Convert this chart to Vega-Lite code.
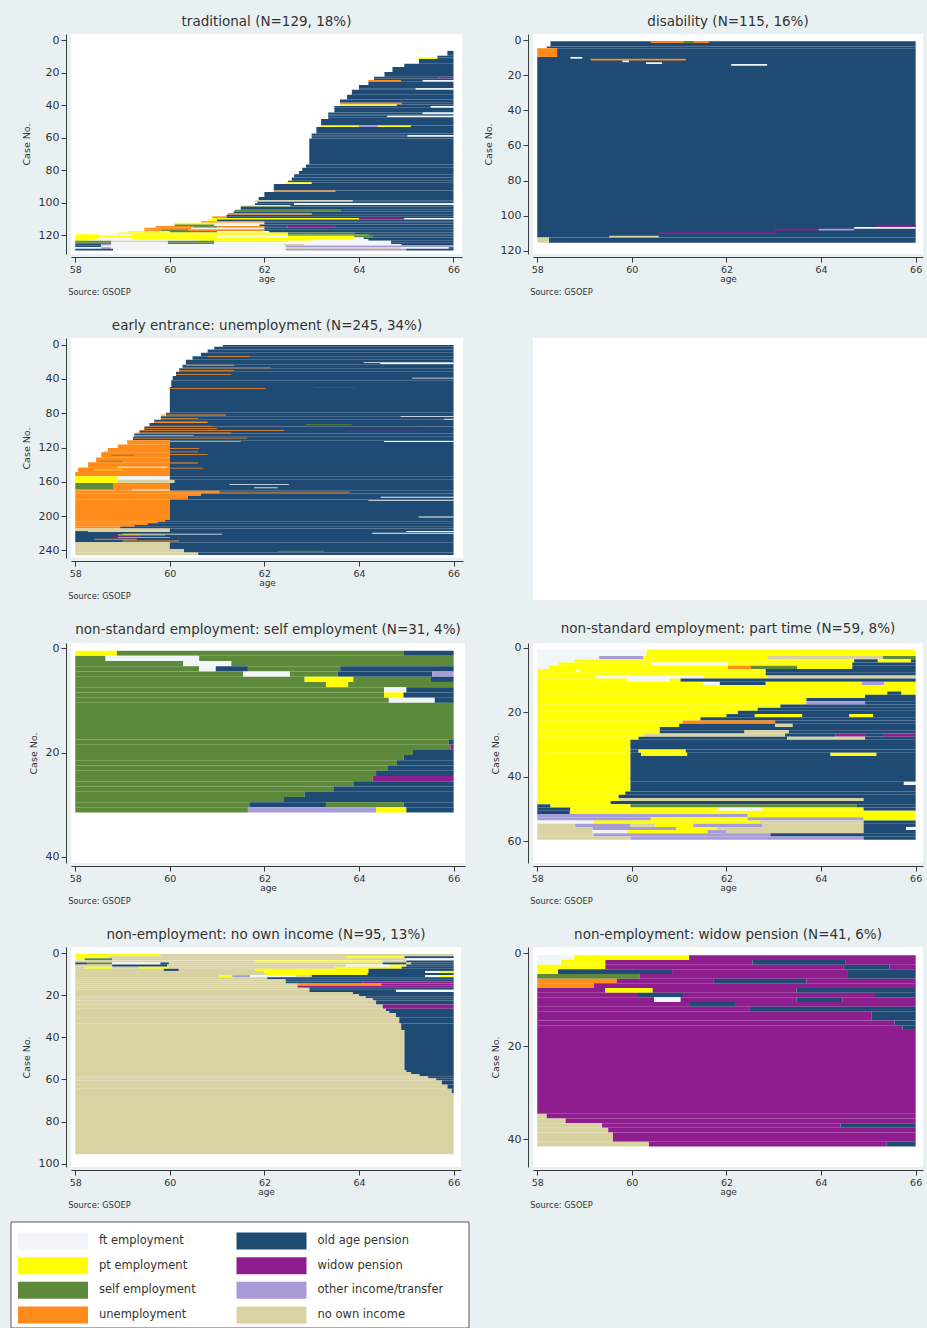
{
"$schema": "https://vega.github.io/schema/vega-lite/v6.json",
"background": "#e9f0f2",
"padding": {"left": 10, "top": 14, "right": 0, "bottom": 0},
"spacing": 11,
"config": {
 "font": "DejaVu Sans",
 "view": {"fill": "white", "stroke": null},
 "axis": {"grid": false, "domainColor": "#3c3c3c", "tickColor": "#3c3c3c", "labelColor": "#333333", "titleColor": "#333333", "titleFontWeight": "normal", "tickSize": 5, "labelFont": "DejaVu Sans", "titleFont": "DejaVu Sans", "labelOverlap": false},
 "axisX": {"labelFontSize": 9.5, "titleFontSize": 9, "offset": 3, "labelPadding": 2, "titlePadding": 1},
 "axisY": {"labelFontSize": 11, "titleFontSize": 9.5, "offset": 5, "labelPadding": 2, "titlePadding": 7, "tickCount": 20},
 "title": {"fontSize": 13.5, "fontWeight": "normal", "color": "#333333", "frame": "group", "offset": 6, "font": "DejaVu Sans"}
},
"datasets": {
"trad": [
{"s":"op","c0":7,"c1":9,"a0":65.87,"a1":66},
{"s":"op","c0":10,"c1":10,"a0":65.66,"a1":66},
{"s":"pt","c0":11,"c1":11,"a0":65.25,"a1":65.66},
{"s":"op","c0":11,"c1":11,"a0":65.66,"a1":66},
{"s":"op","c0":12,"c1":14,"a0":65.27,"a1":66},
{"s":"op","c0":15,"c1":16,"a0":64.96,"a1":66},
{"s":"op","c0":17,"c1":19,"a0":64.71,"a1":66},
{"s":"op","c0":20,"c1":22,"a0":64.54,"a1":66},
{"s":"op","c0":23,"c1":23,"a0":64.32,"a1":65.68},
{"s":"wp","c0":23,"c1":23,"a0":65.68,"a1":66},
{"s":"op","c0":24,"c1":24,"a0":64.32,"a1":66},
{"s":"un","c0":25,"c1":25,"a0":64.2,"a1":64.89},
{"s":"op","c0":25,"c1":25,"a0":64.89,"a1":65.35},
{"s":"ft","c0":25,"c1":25,"a0":65.35,"a1":66},
{"s":"op","c0":26,"c1":27,"a0":64.2,"a1":66},
{"s":"op","c0":28,"c1":29,"a0":64.0,"a1":66},
{"s":"op","c0":30,"c1":30,"a0":64.0,"a1":65.2},
{"s":"ft","c0":30,"c1":30,"a0":65.2,"a1":66},
{"s":"op","c0":31,"c1":33,"a0":63.85,"a1":66},
{"s":"op","c0":34,"c1":36,"a0":63.75,"a1":66},
{"s":"op","c0":37,"c1":38,"a0":63.6,"a1":66},
{"s":"un","c0":39,"c1":39,"a0":63.6,"a1":64.9},
{"s":"op","c0":39,"c1":39,"a0":64.9,"a1":66},
{"s":"pt","c0":40,"c1":40,"a0":63.6,"a1":64.8},
{"s":"op","c0":40,"c1":40,"a0":64.8,"a1":66},
{"s":"op","c0":41,"c1":41,"a0":63.48,"a1":65.52},
{"s":"ft","c0":41,"c1":41,"a0":65.52,"a1":66},
{"s":"op","c0":42,"c1":44,"a0":63.48,"a1":66},
{"s":"op","c0":45,"c1":45,"a0":63.35,"a1":65.35},
{"s":"ft","c0":45,"c1":45,"a0":65.35,"a1":66},
{"s":"op","c0":46,"c1":46,"a0":63.35,"a1":66},
{"s":"op","c0":47,"c1":47,"a0":63.35,"a1":64.6},
{"s":"ft","c0":47,"c1":47,"a0":64.6,"a1":66},
{"s":"op","c0":48,"c1":48,"a0":63.35,"a1":66},
{"s":"op","c0":49,"c1":52,"a0":63.2,"a1":66},
{"s":"pt","c0":53,"c1":53,"a0":63.2,"a1":64.0},
{"s":"ot","c0":53,"c1":53,"a0":64.0,"a1":64.4},
{"s":"pt","c0":53,"c1":53,"a0":64.4,"a1":65.1},
{"s":"op","c0":53,"c1":53,"a0":65.1,"a1":66},
{"s":"op","c0":54,"c1":57,"a0":63.1,"a1":66},
{"s":"op","c0":58,"c1":58,"a0":63.0,"a1":66},
{"s":"op","c0":59,"c1":59,"a0":63.0,"a1":65.03},
{"s":"ft","c0":59,"c1":59,"a0":65.03,"a1":66},
{"s":"op","c0":60,"c1":60,"a0":63.0,"a1":66},
{"s":"op","c0":61,"c1":76,"a0":62.95,"a1":66},
{"s":"op","c0":77,"c1":78,"a0":62.88,"a1":66},
{"s":"op","c0":79,"c1":80,"a0":62.8,"a1":66},
{"s":"op","c0":81,"c1":82,"a0":62.73,"a1":66},
{"s":"op","c0":83,"c1":84,"a0":62.63,"a1":66},
{"s":"op","c0":85,"c1":86,"a0":62.58,"a1":66},
{"s":"op","c0":87,"c1":87,"a0":62.5,"a1":66},
{"s":"pt","c0":88,"c1":88,"a0":62.45,"a1":63.0},
{"s":"op","c0":88,"c1":88,"a0":63.0,"a1":66},
{"s":"op","c0":89,"c1":92,"a0":62.2,"a1":66},
{"s":"un","c0":93,"c1":93,"a0":62.2,"a1":63.5},
{"s":"op","c0":93,"c1":93,"a0":63.5,"a1":66},
{"s":"op","c0":94,"c1":96,"a0":62.0,"a1":66},
{"s":"op","c0":97,"c1":98,"a0":61.88,"a1":66},
{"s":"ni","c0":99,"c1":99,"a0":61.8,"a1":63.87},
{"s":"op","c0":99,"c1":99,"a0":63.87,"a1":66},
{"s":"op","c0":100,"c1":100,"a0":61.85,"a1":66},
{"s":"op","c0":101,"c1":101,"a0":61.8,"a1":62.63},
{"s":"ft","c0":101,"c1":101,"a0":62.63,"a1":66},
{"s":"pt","c0":102,"c1":102,"a0":61.5,"a1":62.55},
{"s":"op","c0":102,"c1":102,"a0":62.55,"a1":66},
{"s":"op","c0":103,"c1":104,"a0":61.5,"a1":66},
{"s":"se","c0":105,"c1":105,"a0":61.37,"a1":63.62},
{"s":"op","c0":105,"c1":105,"a0":63.62,"a1":66},
{"s":"op","c0":106,"c1":106,"a0":61.35,"a1":66},
{"s":"un","c0":107,"c1":107,"a0":61.23,"a1":63.0},
{"s":"op","c0":107,"c1":107,"a0":63.0,"a1":66},
{"s":"op","c0":108,"c1":108,"a0":61.2,"a1":66},
{"s":"un","c0":109,"c1":109,"a0":60.9,"a1":61.2},
{"s":"op","c0":109,"c1":109,"a0":61.2,"a1":66},
{"s":"pt","c0":110,"c1":110,"a0":60.87,"a1":64.0},
{"s":"wp","c0":110,"c1":110,"a0":64.0,"a1":64.96},
{"s":"ft","c0":110,"c1":110,"a0":64.96,"a1":66},
{"s":"pt","c0":111,"c1":111,"a0":60.8,"a1":61.0},
{"s":"op","c0":111,"c1":111,"a0":61.0,"a1":66},
{"s":"un","c0":112,"c1":112,"a0":60.66,"a1":62.0},
{"s":"op","c0":112,"c1":112,"a0":62.0,"a1":66},
{"s":"pt","c0":113,"c1":113,"a0":60.1,"a1":60.94},
{"s":"ft","c0":113,"c1":113,"a0":60.94,"a1":62.0},
{"s":"op","c0":113,"c1":113,"a0":62.0,"a1":66},
{"s":"se","c0":114,"c1":114,"a0":60.1,"a1":60.94},
{"s":"ft","c0":114,"c1":114,"a0":60.94,"a1":61.9},
{"s":"op","c0":114,"c1":114,"a0":61.9,"a1":66},
{"s":"un","c0":115,"c1":115,"a0":59.7,"a1":60.5},
{"s":"se","c0":115,"c1":115,"a0":60.5,"a1":61.0},
{"s":"un","c0":115,"c1":115,"a0":61.0,"a1":62.0},
{"s":"op","c0":115,"c1":115,"a0":62.0,"a1":62.49},
{"s":"wp","c0":115,"c1":115,"a0":62.49,"a1":63.48},
{"s":"op","c0":115,"c1":115,"a0":63.48,"a1":66},
{"s":"un","c0":116,"c1":116,"a0":59.46,"a1":60.45},
{"s":"ft","c0":116,"c1":116,"a0":60.45,"a1":62.0},
{"s":"op","c0":116,"c1":116,"a0":62.0,"a1":66},
{"s":"un","c0":117,"c1":117,"a0":59.46,"a1":59.8},
{"s":"se","c0":117,"c1":117,"a0":59.8,"a1":60.4},
{"s":"un","c0":117,"c1":117,"a0":60.4,"a1":62.0},
{"s":"op","c0":117,"c1":117,"a0":62.0,"a1":66},
{"s":"pt","c0":118,"c1":118,"a0":59.1,"a1":60.0},
{"s":"se","c0":118,"c1":118,"a0":60.0,"a1":61.0},
{"s":"ft","c0":118,"c1":118,"a0":61.0,"a1":62.1},
{"s":"op","c0":118,"c1":118,"a0":62.1,"a1":66},
{"s":"pt","c0":119,"c1":119,"a0":58.9,"a1":62.5},
{"s":"se","c0":119,"c1":119,"a0":62.5,"a1":63.9},
{"s":"op","c0":119,"c1":119,"a0":63.9,"a1":66},
{"s":"pt","c0":120,"c1":120,"a0":58.0,"a1":58.5},
{"s":"ft","c0":120,"c1":120,"a0":58.5,"a1":59.2},
{"s":"pt","c0":120,"c1":120,"a0":59.2,"a1":62.5},
{"s":"se","c0":120,"c1":120,"a0":62.5,"a1":64.2},
{"s":"op","c0":120,"c1":120,"a0":64.2,"a1":66},
{"s":"pt","c0":121,"c1":121,"a0":58.0,"a1":61.0},
{"s":"ft","c0":121,"c1":121,"a0":61.0,"a1":62.5},
{"s":"pt","c0":121,"c1":121,"a0":62.5,"a1":63.9},
{"s":"se","c0":121,"c1":121,"a0":63.9,"a1":64.3},
{"s":"op","c0":121,"c1":121,"a0":64.3,"a1":66},
{"s":"pt","c0":122,"c1":122,"a0":58.0,"a1":58.48},
{"s":"ft","c0":122,"c1":122,"a0":58.48,"a1":59.2},
{"s":"pt","c0":122,"c1":122,"a0":59.2,"a1":63.9},
{"s":"ft","c0":122,"c1":122,"a0":63.9,"a1":64.1},
{"s":"op","c0":122,"c1":122,"a0":64.1,"a1":66},
{"s":"pt","c0":123,"c1":123,"a0":58.0,"a1":58.3},
{"s":"ft","c0":123,"c1":123,"a0":58.3,"a1":60.6},
{"s":"pt","c0":123,"c1":123,"a0":60.6,"a1":63.0},
{"s":"ft","c0":123,"c1":123,"a0":63.0,"a1":64.2},
{"s":"op","c0":123,"c1":123,"a0":64.2,"a1":66},
{"s":"se","c0":124,"c1":124,"a0":58.0,"a1":58.76},
{"s":"ni","c0":124,"c1":124,"a0":58.76,"a1":59.96},
{"s":"se","c0":124,"c1":124,"a0":59.96,"a1":60.94},
{"s":"pt","c0":124,"c1":124,"a0":60.94,"a1":62.5},
{"s":"ft","c0":124,"c1":124,"a0":62.5,"a1":64.68},
{"s":"op","c0":124,"c1":124,"a0":64.68,"a1":66},
{"s":"se","c0":125,"c1":125,"a0":58.0,"a1":58.76},
{"s":"ft","c0":125,"c1":125,"a0":58.76,"a1":59.96},
{"s":"se","c0":125,"c1":125,"a0":59.96,"a1":60.94},
{"s":"ft","c0":125,"c1":125,"a0":60.94,"a1":64.68},
{"s":"op","c0":125,"c1":125,"a0":64.68,"a1":66},
{"s":"op","c0":126,"c1":126,"a0":58.0,"a1":58.55},
{"s":"ot","c0":126,"c1":126,"a0":58.55,"a1":58.76},
{"s":"ft","c0":126,"c1":126,"a0":58.76,"a1":62.42},
{"s":"ni","c0":126,"c1":126,"a0":62.42,"a1":62.85},
{"s":"ft","c0":126,"c1":126,"a0":62.85,"a1":64.9},
{"s":"op","c0":126,"c1":126,"a0":64.9,"a1":66},
{"s":"op","c0":127,"c1":127,"a0":58.0,"a1":58.55},
{"s":"ft","c0":127,"c1":127,"a0":58.55,"a1":62.45},
{"s":"ot","c0":127,"c1":127,"a0":62.45,"a1":66},
{"s":"ft","c0":128,"c1":128,"a0":58.0,"a1":58.55},
{"s":"ot","c0":128,"c1":128,"a0":58.55,"a1":58.76},
{"s":"ft","c0":128,"c1":128,"a0":58.76,"a1":62.45},
{"s":"ni","c0":128,"c1":128,"a0":62.45,"a1":64.9},
{"s":"ft","c0":128,"c1":128,"a0":64.9,"a1":65.9},
{"s":"op","c0":128,"c1":128,"a0":65.9,"a1":66},
{"s":"op","c0":129,"c1":129,"a0":58.0,"a1":58.8},
{"s":"ft","c0":129,"c1":129,"a0":58.8,"a1":62.45},
{"s":"ot","c0":129,"c1":129,"a0":62.45,"a1":65.0},
{"s":"op","c0":129,"c1":129,"a0":65.0,"a1":66}
],
"dis": [
{"s":"op","c0":1,"c1":3,"a0":58.28,"a1":66},
{"s":"op","c0":4,"c1":4,"a0":58.2,"a1":66},
{"s":"un","c0":5,"c1":9,"a0":58.0,"a1":58.42},
{"s":"op","c0":5,"c1":9,"a0":58.42,"a1":66},
{"s":"op","c0":10,"c1":112,"a0":58.0,"a1":66},
{"s":"ni","c0":113,"c1":115,"a0":58.0,"a1":58.25},
{"s":"op","c0":113,"c1":115,"a0":58.25,"a1":66},
{"s":"un","c0":1,"c1":1,"a0":60.4,"a1":61.1},
{"s":"se","c0":1,"c1":1,"a0":61.1,"a1":61.3},
{"s":"un","c0":1,"c1":1,"a0":61.3,"a1":61.63},
{"s":"ft","c0":10,"c1":10,"a0":58.7,"a1":58.95},
{"s":"un","c0":11,"c1":11,"a0":59.13,"a1":61.14},
{"s":"ft","c0":12,"c1":12,"a0":59.8,"a1":59.94},
{"s":"ft","c0":13,"c1":13,"a0":60.3,"a1":60.64},
{"s":"ft","c0":14,"c1":14,"a0":62.1,"a1":62.86},
{"s":"wp","c0":106,"c1":106,"a0":65.15,"a1":66},
{"s":"ft","c0":107,"c1":107,"a0":64.7,"a1":66},
{"s":"wp","c0":108,"c1":108,"a0":63.0,"a1":63.95},
{"s":"ot","c0":108,"c1":108,"a0":63.95,"a1":64.7},
{"s":"wp","c0":110,"c1":110,"a0":60.57,"a1":63.04},
{"s":"ni","c0":112,"c1":112,"a0":59.52,"a1":60.57}
],
"unemp": [
{"s":"op","c0":1,"c1":2,"a0":61.12,"a1":66},
{"s":"op","c0":3,"c1":5,"a0":60.94,"a1":66},
{"s":"op","c0":6,"c1":9,"a0":60.8,"a1":66},
{"s":"op","c0":10,"c1":13,"a0":60.66,"a1":66},
{"s":"op","c0":14,"c1":17,"a0":60.48,"a1":66},
{"s":"op","c0":18,"c1":23,"a0":60.34,"a1":66},
{"s":"op","c0":24,"c1":27,"a0":60.27,"a1":66},
{"s":"op","c0":28,"c1":31,"a0":60.2,"a1":66},
{"s":"op","c0":32,"c1":36,"a0":60.13,"a1":66},
{"s":"op","c0":37,"c1":41,"a0":60.06,"a1":66},
{"s":"op","c0":42,"c1":49,"a0":60.03,"a1":66},
{"s":"op","c0":50,"c1":79,"a0":60.0,"a1":66},
{"s":"op","c0":80,"c1":83,"a0":59.92,"a1":66},
{"s":"op","c0":84,"c1":87,"a0":59.81,"a1":66},
{"s":"op","c0":88,"c1":91,"a0":59.67,"a1":66},
{"s":"op","c0":92,"c1":95,"a0":59.57,"a1":66},
{"s":"op","c0":96,"c1":99,"a0":59.46,"a1":66},
{"s":"op","c0":100,"c1":103,"a0":59.36,"a1":66},
{"s":"op","c0":104,"c1":107,"a0":59.25,"a1":66},
{"s":"op","c0":108,"c1":111,"a0":59.22,"a1":66},
{"s":"un","c0":112,"c1":116,"a0":59.1,"a1":60.0},
{"s":"un","c0":117,"c1":120,"a0":58.9,"a1":60.0},
{"s":"un","c0":121,"c1":125,"a0":58.69,"a1":60.0},
{"s":"un","c0":126,"c1":131,"a0":58.55,"a1":60.0},
{"s":"un","c0":132,"c1":137,"a0":58.44,"a1":60.0},
{"s":"un","c0":138,"c1":143,"a0":58.27,"a1":60.0},
{"s":"un","c0":144,"c1":148,"a0":58.06,"a1":60.0},
{"s":"un","c0":149,"c1":153,"a0":58.0,"a1":60.0},
{"s":"op","c0":112,"c1":153,"a0":60.0,"a1":66},
{"s":"pt","c0":154,"c1":161,"a0":58.0,"a1":58.9},
{"s":"ft","c0":154,"c1":157,"a0":58.9,"a1":60.0},
{"s":"ni","c0":158,"c1":161,"a0":58.9,"a1":60.1},
{"s":"op","c0":154,"c1":157,"a0":60.0,"a1":66},
{"s":"op","c0":158,"c1":161,"a0":60.1,"a1":66},
{"s":"se","c0":162,"c1":168,"a0":58.0,"a1":58.8},
{"s":"un","c0":162,"c1":168,"a0":58.8,"a1":60.0},
{"s":"op","c0":162,"c1":168,"a0":60.0,"a1":66},
{"s":"un","c0":169,"c1":170,"a0":58.0,"a1":59.2},
{"s":"ni","c0":169,"c1":170,"a0":59.2,"a1":60.0},
{"s":"op","c0":169,"c1":170,"a0":60.0,"a1":66},
{"s":"un","c0":171,"c1":173,"a0":58.0,"a1":61.05},
{"s":"op","c0":171,"c1":173,"a0":61.05,"a1":66},
{"s":"un","c0":174,"c1":176,"a0":58.0,"a1":60.66},
{"s":"op","c0":174,"c1":176,"a0":60.66,"a1":66},
{"s":"un","c0":177,"c1":180,"a0":58.0,"a1":60.38},
{"s":"op","c0":177,"c1":180,"a0":60.38,"a1":66},
{"s":"un","c0":181,"c1":204,"a0":58.0,"a1":60.0},
{"s":"op","c0":181,"c1":204,"a0":60.0,"a1":66},
{"s":"un","c0":205,"c1":206,"a0":58.0,"a1":59.9},
{"s":"op","c0":205,"c1":206,"a0":59.9,"a1":66},
{"s":"un","c0":207,"c1":208,"a0":58.0,"a1":59.74},
{"s":"op","c0":207,"c1":208,"a0":59.74,"a1":66},
{"s":"un","c0":209,"c1":210,"a0":58.0,"a1":59.53},
{"s":"op","c0":209,"c1":210,"a0":59.53,"a1":66},
{"s":"un","c0":211,"c1":212,"a0":58.0,"a1":59.25},
{"s":"op","c0":211,"c1":212,"a0":59.25,"a1":66},
{"s":"un","c0":213,"c1":214,"a0":58.0,"a1":58.95},
{"s":"op","c0":213,"c1":214,"a0":58.95,"a1":66},
{"s":"ni","c0":215,"c1":218,"a0":58.0,"a1":60.0},
{"s":"op","c0":215,"c1":218,"a0":60.0,"a1":66},
{"s":"op","c0":218,"c1":218,"a0":58.0,"a1":58.27},
{"s":"op","c0":219,"c1":230,"a0":58.0,"a1":66},
{"s":"ni","c0":231,"c1":238,"a0":58.0,"a1":60.0},
{"s":"op","c0":231,"c1":238,"a0":60.0,"a1":66},
{"s":"ni","c0":239,"c1":242,"a0":58.0,"a1":60.3},
{"s":"op","c0":239,"c1":242,"a0":60.3,"a1":66},
{"s":"ni","c0":243,"c1":245,"a0":58.0,"a1":60.6},
{"s":"op","c0":243,"c1":245,"a0":60.6,"a1":66},
{"s":"un","c0":14,"c1":14,"a0":60.8,"a1":61.68},
{"s":"un","c0":24,"c1":24,"a0":60.34,"a1":61.36},
{"s":"un","c0":27,"c1":27,"a0":60.27,"a1":62.13},
{"s":"un","c0":30,"c1":30,"a0":60.2,"a1":61.36},
{"s":"un","c0":35,"c1":35,"a0":60.13,"a1":61.3},
{"s":"un","c0":51,"c1":51,"a0":60.0,"a1":62.03},
{"s":"un","c0":82,"c1":82,"a0":59.81,"a1":61.19},
{"s":"un","c0":86,"c1":86,"a0":59.81,"a1":60.6},
{"s":"un","c0":90,"c1":91,"a0":59.67,"a1":60.8},
{"s":"un","c0":95,"c1":95,"a0":59.57,"a1":60.9},
{"s":"un","c0":98,"c1":98,"a0":59.46,"a1":61.0},
{"s":"un","c0":100,"c1":100,"a0":59.36,"a1":62.42},
{"s":"un","c0":103,"c1":103,"a0":59.3,"a1":61.3},
{"s":"un","c0":106,"c1":106,"a0":59.25,"a1":60.5},
{"s":"un","c0":109,"c1":109,"a0":59.22,"a1":61.64},
{"s":"un","c0":113,"c1":113,"a0":59.1,"a1":61.5},
{"s":"un","c0":121,"c1":121,"a0":58.69,"a1":60.62},
{"s":"un","c0":125,"c1":125,"a0":58.6,"a1":60.59},
{"s":"un","c0":128,"c1":128,"a0":58.55,"a1":60.8},
{"s":"un","c0":138,"c1":138,"a0":58.27,"a1":60.59},
{"s":"un","c0":144,"c1":144,"a0":58.1,"a1":60.7},
{"s":"se","c0":136,"c1":136,"a0":58.5,"a1":59.0},
{"s":"se","c0":129,"c1":129,"a0":58.76,"a1":59.25},
{"s":"pt","c0":146,"c1":146,"a0":58.4,"a1":59.0},
{"s":"ft","c0":143,"c1":143,"a0":58.9,"a1":59.95},
{"s":"ft","c0":21,"c1":21,"a0":64.1,"a1":66},
{"s":"ft","c0":22,"c1":22,"a0":64.45,"a1":66},
{"s":"ft","c0":39,"c1":39,"a0":65.12,"a1":66},
{"s":"wp","c0":50,"c1":50,"a0":63.05,"a1":63.96},
{"s":"ft","c0":84,"c1":84,"a0":64.88,"a1":66},
{"s":"ft","c0":87,"c1":87,"a0":65.8,"a1":66},
{"s":"se","c0":93,"c1":93,"a0":62.87,"a1":63.86},
{"s":"wp","c0":101,"c1":101,"a0":63.75,"a1":65.23},
{"s":"ft","c0":113,"c1":113,"a0":64.53,"a1":66},
{"s":"ft","c0":163,"c1":163,"a0":61.26,"a1":62.52},
{"s":"ft","c0":167,"c1":167,"a0":61.78,"a1":62.28},
{"s":"un","c0":172,"c1":172,"a0":61.05,"a1":63.8},
{"s":"ft","c0":178,"c1":178,"a0":64.46,"a1":66},
{"s":"ft","c0":182,"c1":182,"a0":64.2,"a1":66},
{"s":"ft","c0":201,"c1":201,"a0":65.26,"a1":66},
{"s":"ft","c0":218,"c1":218,"a0":65.0,"a1":66},
{"s":"ft","c0":220,"c1":220,"a0":64.28,"a1":66},
{"s":"se","c0":241,"c1":241,"a0":62.28,"a1":63.26},
{"s":"wp","c0":224,"c1":224,"a0":58.76,"a1":59.4},
{"s":"un","c0":225,"c1":225,"a0":58.9,"a1":60.0},
{"s":"un","c0":227,"c1":227,"a0":58.4,"a1":59.3},
{"s":"ft","c0":221,"c1":221,"a0":59.0,"a1":61.1},
{"s":"pt","c0":222,"c1":222,"a0":58.9,"a1":59.4},
{"s":"ni","c0":222,"c1":222,"a0":59.4,"a1":59.9},
{"s":"un","c0":229,"c1":229,"a0":59.0,"a1":60.2}
],
"self": [
{"s":"pt","c0":1,"c1":1,"a0":58.0,"a1":58.88},
{"s":"se","c0":1,"c1":1,"a0":58.88,"a1":64.94},
{"s":"op","c0":1,"c1":1,"a0":64.94,"a1":66},
{"s":"se","c0":2,"c1":2,"a0":58.0,"a1":58.64},
{"s":"ft","c0":2,"c1":2,"a0":58.64,"a1":60.62},
{"s":"se","c0":2,"c1":2,"a0":60.62,"a1":66},
{"s":"se","c0":3,"c1":3,"a0":58.0,"a1":60.28},
{"s":"ft","c0":3,"c1":3,"a0":60.28,"a1":61.3},
{"s":"se","c0":3,"c1":3,"a0":61.3,"a1":66},
{"s":"se","c0":4,"c1":4,"a0":58.0,"a1":60.62},
{"s":"ft","c0":4,"c1":4,"a0":60.62,"a1":60.97},
{"s":"op","c0":4,"c1":4,"a0":60.97,"a1":61.65},
{"s":"se","c0":4,"c1":4,"a0":61.65,"a1":63.6},
{"s":"op","c0":4,"c1":4,"a0":63.6,"a1":66},
{"s":"se","c0":5,"c1":5,"a0":58.0,"a1":61.55},
{"s":"ft","c0":5,"c1":5,"a0":61.55,"a1":62.54},
{"s":"se","c0":5,"c1":5,"a0":62.54,"a1":63.55},
{"s":"op","c0":5,"c1":5,"a0":63.55,"a1":65.55},
{"s":"ot","c0":5,"c1":5,"a0":65.55,"a1":66},
{"s":"se","c0":6,"c1":6,"a0":58.0,"a1":62.85},
{"s":"pt","c0":6,"c1":6,"a0":62.85,"a1":63.88},
{"s":"se","c0":6,"c1":6,"a0":63.88,"a1":65.52},
{"s":"op","c0":6,"c1":6,"a0":65.52,"a1":66},
{"s":"se","c0":7,"c1":7,"a0":58.0,"a1":63.3},
{"s":"pt","c0":7,"c1":7,"a0":63.3,"a1":63.77},
{"s":"se","c0":7,"c1":7,"a0":63.77,"a1":66},
{"s":"se","c0":8,"c1":8,"a0":58.0,"a1":64.53},
{"s":"ft","c0":8,"c1":8,"a0":64.53,"a1":65.0},
{"s":"op","c0":8,"c1":8,"a0":65.0,"a1":66},
{"s":"se","c0":9,"c1":9,"a0":58.0,"a1":64.53},
{"s":"pt","c0":9,"c1":9,"a0":64.53,"a1":64.94},
{"s":"op","c0":9,"c1":9,"a0":64.94,"a1":66},
{"s":"se","c0":10,"c1":10,"a0":58.0,"a1":64.63},
{"s":"ft","c0":10,"c1":10,"a0":64.63,"a1":65.6},
{"s":"op","c0":10,"c1":10,"a0":65.6,"a1":66},
{"s":"se","c0":11,"c1":17,"a0":58.0,"a1":66},
{"s":"se","c0":18,"c1":18,"a0":58.0,"a1":65.9},
{"s":"op","c0":18,"c1":18,"a0":65.9,"a1":66},
{"s":"se","c0":19,"c1":19,"a0":58.0,"a1":65.93},
{"s":"wp","c0":19,"c1":19,"a0":65.93,"a1":66},
{"s":"se","c0":20,"c1":20,"a0":58.0,"a1":65.14},
{"s":"op","c0":20,"c1":20,"a0":65.14,"a1":66},
{"s":"se","c0":21,"c1":21,"a0":58.0,"a1":64.94},
{"s":"op","c0":21,"c1":21,"a0":64.94,"a1":66},
{"s":"se","c0":22,"c1":22,"a0":58.0,"a1":64.8},
{"s":"op","c0":22,"c1":22,"a0":64.8,"a1":66},
{"s":"se","c0":23,"c1":23,"a0":58.0,"a1":64.6},
{"s":"op","c0":23,"c1":23,"a0":64.6,"a1":66},
{"s":"se","c0":24,"c1":24,"a0":58.0,"a1":64.36},
{"s":"op","c0":24,"c1":24,"a0":64.36,"a1":66},
{"s":"se","c0":25,"c1":25,"a0":58.0,"a1":64.29},
{"s":"wp","c0":25,"c1":25,"a0":64.29,"a1":66},
{"s":"se","c0":26,"c1":26,"a0":58.0,"a1":63.88},
{"s":"op","c0":26,"c1":26,"a0":63.88,"a1":66},
{"s":"se","c0":27,"c1":27,"a0":58.0,"a1":63.47},
{"s":"op","c0":27,"c1":27,"a0":63.47,"a1":66},
{"s":"se","c0":28,"c1":28,"a0":58.0,"a1":62.85},
{"s":"op","c0":28,"c1":28,"a0":62.85,"a1":66},
{"s":"se","c0":29,"c1":29,"a0":58.0,"a1":62.4},
{"s":"op","c0":29,"c1":29,"a0":62.4,"a1":66},
{"s":"se","c0":30,"c1":30,"a0":58.0,"a1":61.68},
{"s":"op","c0":30,"c1":30,"a0":61.68,"a1":63.3},
{"s":"se","c0":30,"c1":30,"a0":63.3,"a1":64.94},
{"s":"op","c0":30,"c1":30,"a0":64.94,"a1":66},
{"s":"se","c0":31,"c1":31,"a0":58.0,"a1":61.65},
{"s":"ot","c0":31,"c1":31,"a0":61.65,"a1":64.36},
{"s":"pt","c0":31,"c1":31,"a0":64.36,"a1":65.0},
{"s":"op","c0":31,"c1":31,"a0":65.0,"a1":66}
],
"part": [
{"s":"ft","c0":1,"c1":2,"a0":58.0,"a1":60.31},
{"s":"pt","c0":1,"c1":2,"a0":60.31,"a1":66},
{"s":"ft","c0":3,"c1":3,"a0":58.0,"a1":59.31},
{"s":"ot","c0":3,"c1":3,"a0":59.31,"a1":60.24},
{"s":"pt","c0":3,"c1":3,"a0":60.24,"a1":62.86},
{"s":"ni","c0":3,"c1":3,"a0":62.86,"a1":65.31},
{"s":"se","c0":3,"c1":3,"a0":65.31,"a1":66},
{"s":"ft","c0":4,"c1":4,"a0":58.0,"a1":58.79},
{"s":"pt","c0":4,"c1":4,"a0":58.79,"a1":64.7},
{"s":"op","c0":4,"c1":4,"a0":64.7,"a1":65.2},
{"s":"pt","c0":4,"c1":4,"a0":65.2,"a1":65.9},
{"s":"op","c0":4,"c1":4,"a0":65.9,"a1":66},
{"s":"ft","c0":5,"c1":5,"a0":58.0,"a1":58.45},
{"s":"pt","c0":5,"c1":5,"a0":58.45,"a1":60.41},
{"s":"ft","c0":5,"c1":5,"a0":60.41,"a1":62.03},
{"s":"pt","c0":5,"c1":5,"a0":62.03,"a1":64.66},
{"s":"op","c0":5,"c1":5,"a0":64.66,"a1":66},
{"s":"ft","c0":6,"c1":6,"a0":58.0,"a1":58.24},
{"s":"pt","c0":6,"c1":6,"a0":58.24,"a1":62.03},
{"s":"un","c0":6,"c1":6,"a0":62.03,"a1":62.52},
{"s":"se","c0":6,"c1":6,"a0":62.52,"a1":63.5},
{"s":"pt","c0":6,"c1":6,"a0":63.5,"a1":64.66},
{"s":"op","c0":6,"c1":6,"a0":64.66,"a1":66},
{"s":"pt","c0":7,"c1":7,"a0":58.0,"a1":58.8},
{"s":"ft","c0":7,"c1":7,"a0":58.8,"a1":58.9},
{"s":"pt","c0":7,"c1":7,"a0":58.9,"a1":62.83},
{"s":"op","c0":7,"c1":7,"a0":62.83,"a1":66},
{"s":"pt","c0":8,"c1":8,"a0":58.0,"a1":62.83},
{"s":"op","c0":8,"c1":8,"a0":62.83,"a1":66},
{"s":"pt","c0":9,"c1":9,"a0":58.0,"a1":59.24},
{"s":"ft","c0":9,"c1":9,"a0":59.24,"a1":61.52},
{"s":"pt","c0":9,"c1":9,"a0":61.52,"a1":62.86},
{"s":"ni","c0":9,"c1":9,"a0":62.86,"a1":66},
{"s":"pt","c0":10,"c1":10,"a0":58.0,"a1":59.9},
{"s":"ft","c0":10,"c1":10,"a0":59.9,"a1":60.8},
{"s":"pt","c0":10,"c1":10,"a0":60.8,"a1":61.03},
{"s":"op","c0":10,"c1":10,"a0":61.03,"a1":66},
{"s":"pt","c0":11,"c1":11,"a0":58.0,"a1":61.5},
{"s":"ft","c0":11,"c1":11,"a0":61.5,"a1":61.86},
{"s":"op","c0":11,"c1":11,"a0":61.86,"a1":62.83},
{"s":"pt","c0":11,"c1":11,"a0":62.83,"a1":64.86},
{"s":"ot","c0":11,"c1":11,"a0":64.86,"a1":65.34},
{"s":"pt","c0":11,"c1":11,"a0":65.34,"a1":66},
{"s":"pt","c0":12,"c1":13,"a0":58.0,"a1":66},
{"s":"pt","c0":14,"c1":14,"a0":58.0,"a1":65.4},
{"s":"op","c0":14,"c1":14,"a0":65.4,"a1":65.7},
{"s":"pt","c0":14,"c1":14,"a0":65.7,"a1":66},
{"s":"pt","c0":15,"c1":15,"a0":58.0,"a1":64.93},
{"s":"op","c0":15,"c1":15,"a0":64.93,"a1":66},
{"s":"pt","c0":16,"c1":16,"a0":58.0,"a1":63.69},
{"s":"op","c0":16,"c1":16,"a0":63.69,"a1":66},
{"s":"pt","c0":17,"c1":17,"a0":58.0,"a1":63.69},
{"s":"ot","c0":17,"c1":17,"a0":63.69,"a1":64.93},
{"s":"op","c0":17,"c1":17,"a0":64.93,"a1":66},
{"s":"pt","c0":18,"c1":18,"a0":58.0,"a1":63.14},
{"s":"op","c0":18,"c1":18,"a0":63.14,"a1":66},
{"s":"pt","c0":19,"c1":19,"a0":58.0,"a1":62.66},
{"s":"op","c0":19,"c1":19,"a0":62.66,"a1":66},
{"s":"pt","c0":20,"c1":20,"a0":58.0,"a1":62.24},
{"s":"op","c0":20,"c1":20,"a0":62.24,"a1":66},
{"s":"pt","c0":21,"c1":21,"a0":58.0,"a1":62.0},
{"s":"op","c0":21,"c1":21,"a0":62.0,"a1":62.6},
{"s":"pt","c0":21,"c1":21,"a0":62.6,"a1":63.6},
{"s":"op","c0":21,"c1":21,"a0":63.6,"a1":64.6},
{"s":"pt","c0":21,"c1":21,"a0":64.6,"a1":65.1},
{"s":"op","c0":21,"c1":21,"a0":65.1,"a1":66},
{"s":"pt","c0":22,"c1":22,"a0":58.0,"a1":61.45},
{"s":"op","c0":22,"c1":22,"a0":61.45,"a1":66},
{"s":"pt","c0":23,"c1":23,"a0":58.0,"a1":61.07},
{"s":"un","c0":23,"c1":23,"a0":61.07,"a1":63.03},
{"s":"op","c0":23,"c1":23,"a0":63.03,"a1":66},
{"s":"pt","c0":24,"c1":24,"a0":58.0,"a1":61.0},
{"s":"op","c0":24,"c1":24,"a0":61.0,"a1":63.03},
{"s":"ni","c0":24,"c1":24,"a0":63.03,"a1":63.4},
{"s":"op","c0":24,"c1":24,"a0":63.4,"a1":66},
{"s":"pt","c0":25,"c1":25,"a0":58.0,"a1":60.59},
{"s":"op","c0":25,"c1":25,"a0":60.59,"a1":66},
{"s":"pt","c0":26,"c1":26,"a0":58.0,"a1":60.59},
{"s":"op","c0":26,"c1":26,"a0":60.59,"a1":62.38},
{"s":"ni","c0":26,"c1":26,"a0":62.38,"a1":63.32},
{"s":"op","c0":26,"c1":26,"a0":63.32,"a1":66},
{"s":"pt","c0":27,"c1":27,"a0":58.0,"a1":60.24},
{"s":"ni","c0":27,"c1":27,"a0":60.24,"a1":63.24},
{"s":"op","c0":27,"c1":27,"a0":63.24,"a1":64.3},
{"s":"wp","c0":27,"c1":27,"a0":64.3,"a1":64.93},
{"s":"op","c0":27,"c1":27,"a0":64.93,"a1":65.31},
{"s":"wp","c0":27,"c1":27,"a0":65.31,"a1":66},
{"s":"pt","c0":28,"c1":28,"a0":58.0,"a1":60.14},
{"s":"op","c0":28,"c1":28,"a0":60.14,"a1":63.28},
{"s":"ni","c0":28,"c1":28,"a0":63.28,"a1":64.93},
{"s":"op","c0":28,"c1":28,"a0":64.93,"a1":66},
{"s":"pt","c0":29,"c1":31,"a0":58.0,"a1":59.97},
{"s":"op","c0":29,"c1":31,"a0":59.97,"a1":66},
{"s":"pt","c0":32,"c1":32,"a0":58.0,"a1":59.97},
{"s":"op","c0":32,"c1":32,"a0":59.97,"a1":60.14},
{"s":"pt","c0":32,"c1":32,"a0":60.14,"a1":61.14},
{"s":"op","c0":32,"c1":32,"a0":61.14,"a1":66},
{"s":"pt","c0":33,"c1":33,"a0":58.0,"a1":59.97},
{"s":"op","c0":33,"c1":33,"a0":59.97,"a1":60.2},
{"s":"pt","c0":33,"c1":33,"a0":60.2,"a1":61.17},
{"s":"op","c0":33,"c1":33,"a0":61.17,"a1":64.2},
{"s":"pt","c0":33,"c1":33,"a0":64.2,"a1":65.17},
{"s":"op","c0":33,"c1":33,"a0":65.17,"a1":66},
{"s":"pt","c0":34,"c1":41,"a0":58.0,"a1":59.97},
{"s":"op","c0":34,"c1":41,"a0":59.97,"a1":66},
{"s":"pt","c0":42,"c1":42,"a0":58.0,"a1":59.97},
{"s":"op","c0":42,"c1":42,"a0":59.97,"a1":65.75},
{"s":"ft","c0":42,"c1":42,"a0":65.75,"a1":66},
{"s":"pt","c0":43,"c1":44,"a0":58.0,"a1":59.97},
{"s":"op","c0":43,"c1":44,"a0":59.97,"a1":66},
{"s":"pt","c0":45,"c1":45,"a0":58.0,"a1":59.86},
{"s":"op","c0":45,"c1":45,"a0":59.86,"a1":66},
{"s":"pt","c0":46,"c1":46,"a0":58.0,"a1":59.72},
{"s":"op","c0":46,"c1":46,"a0":59.72,"a1":66},
{"s":"pt","c0":47,"c1":47,"a0":58.0,"a1":59.72},
{"s":"ni","c0":47,"c1":47,"a0":59.72,"a1":64.9},
{"s":"op","c0":47,"c1":47,"a0":64.9,"a1":66},
{"s":"pt","c0":48,"c1":48,"a0":58.0,"a1":59.55},
{"s":"op","c0":48,"c1":48,"a0":59.55,"a1":66},
{"s":"op","c0":49,"c1":49,"a0":58.0,"a1":58.28},
{"s":"pt","c0":49,"c1":49,"a0":58.28,"a1":59.97},
{"s":"se","c0":49,"c1":49,"a0":59.97,"a1":64.76},
{"s":"op","c0":49,"c1":49,"a0":64.76,"a1":66},
{"s":"op","c0":50,"c1":50,"a0":58.0,"a1":58.7},
{"s":"pt","c0":50,"c1":50,"a0":58.7,"a1":61.83},
{"s":"ft","c0":50,"c1":50,"a0":61.83,"a1":62.76},
{"s":"pt","c0":50,"c1":50,"a0":62.76,"a1":64.9},
{"s":"op","c0":50,"c1":50,"a0":64.9,"a1":66},
{"s":"op","c0":51,"c1":51,"a0":58.0,"a1":58.69},
{"s":"pt","c0":51,"c1":51,"a0":58.69,"a1":66},
{"s":"ot","c0":52,"c1":52,"a0":58.0,"a1":62.45},
{"s":"pt","c0":52,"c1":52,"a0":62.45,"a1":66},
{"s":"ot","c0":53,"c1":53,"a0":58.0,"a1":60.4},
{"s":"pt","c0":53,"c1":53,"a0":60.4,"a1":62.45},
{"s":"ot","c0":53,"c1":53,"a0":62.45,"a1":64.9},
{"s":"pt","c0":53,"c1":53,"a0":64.9,"a1":66},
{"s":"ft","c0":54,"c1":54,"a0":58.0,"a1":59.2},
{"s":"pt","c0":54,"c1":54,"a0":59.2,"a1":62.7},
{"s":"ni","c0":54,"c1":54,"a0":62.7,"a1":64.9},
{"s":"op","c0":54,"c1":54,"a0":64.9,"a1":66},
{"s":"ni","c0":55,"c1":55,"a0":58.0,"a1":58.8},
{"s":"ot","c0":55,"c1":55,"a0":58.8,"a1":59.97},
{"s":"ni","c0":55,"c1":55,"a0":59.97,"a1":60.5},
{"s":"pt","c0":55,"c1":55,"a0":60.5,"a1":61.3},
{"s":"ot","c0":55,"c1":55,"a0":61.3,"a1":62.76},
{"s":"ni","c0":55,"c1":55,"a0":62.76,"a1":64.9},
{"s":"op","c0":55,"c1":55,"a0":64.9,"a1":66},
{"s":"ni","c0":56,"c1":56,"a0":58.0,"a1":59.17},
{"s":"ot","c0":56,"c1":56,"a0":59.17,"a1":60.94},
{"s":"pt","c0":56,"c1":56,"a0":60.94,"a1":61.8},
{"s":"ni","c0":56,"c1":56,"a0":61.8,"a1":64.9},
{"s":"op","c0":56,"c1":56,"a0":64.9,"a1":65.8},
{"s":"ft","c0":56,"c1":56,"a0":65.8,"a1":66},
{"s":"ni","c0":57,"c1":57,"a0":58.0,"a1":59.17},
{"s":"ft","c0":57,"c1":57,"a0":59.17,"a1":59.9},
{"s":"pt","c0":57,"c1":57,"a0":59.9,"a1":61.6},
{"s":"ot","c0":57,"c1":57,"a0":61.6,"a1":62.0},
{"s":"ni","c0":57,"c1":57,"a0":62.0,"a1":64.9},
{"s":"op","c0":57,"c1":57,"a0":64.9,"a1":66},
{"s":"ni","c0":58,"c1":58,"a0":58.0,"a1":59.2},
{"s":"ot","c0":58,"c1":58,"a0":59.2,"a1":62.93},
{"s":"op","c0":58,"c1":58,"a0":62.93,"a1":66},
{"s":"ni","c0":59,"c1":59,"a0":58.0,"a1":59.97},
{"s":"ot","c0":59,"c1":59,"a0":59.97,"a1":64.9},
{"s":"op","c0":59,"c1":59,"a0":64.9,"a1":66}
],
"noinc": [
{"s":"pt","c0":1,"c1":1,"a0":58.0,"a1":59.8},
{"s":"ni","c0":1,"c1":1,"a0":59.8,"a1":66},
{"s":"pt","c0":2,"c1":2,"a0":58.0,"a1":58.7},
{"s":"ni","c0":2,"c1":2,"a0":58.7,"a1":63.72},
{"s":"pt","c0":2,"c1":2,"a0":63.72,"a1":64.96},
{"s":"op","c0":2,"c1":2,"a0":64.96,"a1":66},
{"s":"pt","c0":3,"c1":3,"a0":58.0,"a1":58.2},
{"s":"se","c0":3,"c1":3,"a0":58.2,"a1":58.78},
{"s":"ni","c0":3,"c1":3,"a0":58.78,"a1":65.0},
{"s":"ft","c0":3,"c1":3,"a0":65.0,"a1":66},
{"s":"ni","c0":4,"c1":4,"a0":58.0,"a1":61.8},
{"s":"pt","c0":4,"c1":4,"a0":61.8,"a1":64.47},
{"s":"ni","c0":4,"c1":4,"a0":64.47,"a1":65.0},
{"s":"op","c0":4,"c1":4,"a0":65.0,"a1":66},
{"s":"op","c0":5,"c1":5,"a0":58.0,"a1":58.25},
{"s":"se","c0":5,"c1":5,"a0":58.25,"a1":58.78},
{"s":"ft","c0":5,"c1":5,"a0":58.78,"a1":59.8},
{"s":"op","c0":5,"c1":5,"a0":59.8,"a1":59.98},
{"s":"ni","c0":5,"c1":5,"a0":59.98,"a1":64.5},
{"s":"op","c0":5,"c1":5,"a0":64.5,"a1":65.0},
{"s":"ni","c0":5,"c1":5,"a0":65.0,"a1":65.1},
{"s":"op","c0":5,"c1":5,"a0":65.1,"a1":66},
{"s":"ni","c0":6,"c1":6,"a0":58.0,"a1":58.78},
{"s":"op","c0":6,"c1":6,"a0":58.78,"a1":59.94},
{"s":"ni","c0":6,"c1":6,"a0":59.94,"a1":63.72},
{"s":"ft","c0":6,"c1":6,"a0":63.72,"a1":64.64},
{"s":"pt","c0":6,"c1":6,"a0":64.64,"a1":65.0},
{"s":"op","c0":6,"c1":6,"a0":65.0,"a1":66},
{"s":"ni","c0":7,"c1":7,"a0":58.0,"a1":58.2},
{"s":"pt","c0":7,"c1":7,"a0":58.2,"a1":58.78},
{"s":"ni","c0":7,"c1":7,"a0":58.78,"a1":59.34},
{"s":"pt","c0":7,"c1":7,"a0":59.34,"a1":59.98},
{"s":"ni","c0":7,"c1":7,"a0":59.98,"a1":63.5},
{"s":"pt","c0":7,"c1":7,"a0":63.5,"a1":64.9},
{"s":"op","c0":7,"c1":7,"a0":64.9,"a1":66},
{"s":"ni","c0":8,"c1":8,"a0":58.0,"a1":59.87},
{"s":"op","c0":8,"c1":8,"a0":59.87,"a1":60.19},
{"s":"ni","c0":8,"c1":8,"a0":60.19,"a1":61.8},
{"s":"pt","c0":8,"c1":8,"a0":61.8,"a1":64.2},
{"s":"op","c0":8,"c1":8,"a0":64.2,"a1":66},
{"s":"ni","c0":9,"c1":9,"a0":58.0,"a1":62.0},
{"s":"pt","c0":9,"c1":9,"a0":62.0,"a1":64.2},
{"s":"op","c0":9,"c1":9,"a0":64.2,"a1":65.4},
{"s":"ft","c0":9,"c1":9,"a0":65.4,"a1":65.7},
{"s":"pt","c0":9,"c1":9,"a0":65.7,"a1":66},
{"s":"ni","c0":10,"c1":10,"a0":58.0,"a1":62.03},
{"s":"pt","c0":10,"c1":10,"a0":62.03,"a1":64.18},
{"s":"op","c0":10,"c1":10,"a0":64.18,"a1":66},
{"s":"ni","c0":11,"c1":11,"a0":58.0,"a1":61.04},
{"s":"pt","c0":11,"c1":11,"a0":61.04,"a1":61.32},
{"s":"ot","c0":11,"c1":11,"a0":61.32,"a1":61.7},
{"s":"ft","c0":11,"c1":11,"a0":61.7,"a1":62.66},
{"s":"ni","c0":11,"c1":11,"a0":62.66,"a1":63.0},
{"s":"op","c0":11,"c1":11,"a0":63.0,"a1":65.4},
{"s":"ft","c0":11,"c1":11,"a0":65.4,"a1":65.7},
{"s":"pt","c0":11,"c1":11,"a0":65.7,"a1":66},
{"s":"ni","c0":12,"c1":12,"a0":58.0,"a1":62.06},
{"s":"op","c0":12,"c1":12,"a0":62.06,"a1":66},
{"s":"ni","c0":13,"c1":13,"a0":58.0,"a1":62.45},
{"s":"op","c0":13,"c1":13,"a0":62.45,"a1":66},
{"s":"ni","c0":14,"c1":14,"a0":58.0,"a1":62.45},
{"s":"op","c0":14,"c1":14,"a0":62.45,"a1":64.07},
{"s":"wp","c0":14,"c1":14,"a0":64.07,"a1":66},
{"s":"ni","c0":15,"c1":15,"a0":58.0,"a1":62.7},
{"s":"un","c0":15,"c1":15,"a0":62.7,"a1":64.47},
{"s":"wp","c0":15,"c1":15,"a0":64.47,"a1":66},
{"s":"ni","c0":16,"c1":16,"a0":58.0,"a1":62.7},
{"s":"wp","c0":16,"c1":16,"a0":62.7,"a1":66},
{"s":"ni","c0":17,"c1":17,"a0":58.0,"a1":62.95},
{"s":"op","c0":17,"c1":17,"a0":62.95,"a1":66},
{"s":"ni","c0":18,"c1":18,"a0":58.0,"a1":62.95},
{"s":"op","c0":18,"c1":18,"a0":62.95,"a1":64.78},
{"s":"ft","c0":18,"c1":18,"a0":64.78,"a1":66},
{"s":"ni","c0":19,"c1":19,"a0":58.0,"a1":63.87},
{"s":"op","c0":19,"c1":19,"a0":63.87,"a1":66},
{"s":"ni","c0":20,"c1":20,"a0":58.0,"a1":64.0},
{"s":"op","c0":20,"c1":20,"a0":64.0,"a1":66},
{"s":"ni","c0":21,"c1":21,"a0":58.0,"a1":64.14},
{"s":"op","c0":21,"c1":21,"a0":64.14,"a1":66},
{"s":"ni","c0":22,"c1":22,"a0":58.0,"a1":64.29},
{"s":"op","c0":22,"c1":22,"a0":64.29,"a1":66},
{"s":"ni","c0":23,"c1":24,"a0":58.0,"a1":64.36},
{"s":"op","c0":23,"c1":24,"a0":64.36,"a1":66},
{"s":"ni","c0":25,"c1":26,"a0":58.0,"a1":64.5},
{"s":"wp","c0":25,"c1":26,"a0":64.5,"a1":66},
{"s":"ni","c0":27,"c1":27,"a0":58.0,"a1":64.57},
{"s":"op","c0":27,"c1":27,"a0":64.57,"a1":66},
{"s":"ni","c0":28,"c1":28,"a0":58.0,"a1":64.64},
{"s":"op","c0":28,"c1":28,"a0":64.64,"a1":66},
{"s":"ni","c0":29,"c1":30,"a0":58.0,"a1":64.78},
{"s":"op","c0":29,"c1":30,"a0":64.78,"a1":66},
{"s":"ni","c0":31,"c1":33,"a0":58.0,"a1":64.85},
{"s":"op","c0":31,"c1":33,"a0":64.85,"a1":66},
{"s":"ni","c0":34,"c1":36,"a0":58.0,"a1":64.89},
{"s":"op","c0":34,"c1":36,"a0":64.89,"a1":66},
{"s":"ni","c0":37,"c1":55,"a0":58.0,"a1":64.96},
{"s":"op","c0":37,"c1":55,"a0":64.96,"a1":66},
{"s":"ni","c0":56,"c1":56,"a0":58.0,"a1":65.0},
{"s":"op","c0":56,"c1":56,"a0":65.0,"a1":66},
{"s":"ni","c0":57,"c1":57,"a0":58.0,"a1":65.1},
{"s":"op","c0":57,"c1":57,"a0":65.1,"a1":66},
{"s":"ni","c0":58,"c1":58,"a0":58.0,"a1":65.28},
{"s":"op","c0":58,"c1":58,"a0":65.28,"a1":66},
{"s":"ni","c0":59,"c1":59,"a0":58.0,"a1":65.46},
{"s":"op","c0":59,"c1":59,"a0":65.46,"a1":66},
{"s":"ni","c0":60,"c1":60,"a0":58.0,"a1":65.63},
{"s":"op","c0":60,"c1":60,"a0":65.63,"a1":66},
{"s":"ni","c0":61,"c1":62,"a0":58.0,"a1":65.75},
{"s":"op","c0":61,"c1":62,"a0":65.75,"a1":66},
{"s":"ni","c0":63,"c1":64,"a0":58.0,"a1":65.87},
{"s":"op","c0":63,"c1":64,"a0":65.87,"a1":66},
{"s":"ni","c0":65,"c1":66,"a0":58.0,"a1":65.96},
{"s":"op","c0":65,"c1":66,"a0":65.96,"a1":66},
{"s":"ni","c0":67,"c1":95,"a0":58.0,"a1":66}
],
"widow": [
{"s":"ft","c0":1,"c1":1,"a0":58.0,"a1":58.78},
{"s":"pt","c0":1,"c1":1,"a0":58.78,"a1":61.21},
{"s":"wp","c0":1,"c1":1,"a0":61.21,"a1":66},
{"s":"ft","c0":2,"c1":2,"a0":58.0,"a1":58.5},
{"s":"pt","c0":2,"c1":2,"a0":58.5,"a1":59.44},
{"s":"wp","c0":2,"c1":2,"a0":59.44,"a1":62.55},
{"s":"op","c0":2,"c1":2,"a0":62.55,"a1":64.51},
{"s":"wp","c0":2,"c1":2,"a0":64.51,"a1":66},
{"s":"pt","c0":3,"c1":3,"a0":58.0,"a1":59.44},
{"s":"wp","c0":3,"c1":3,"a0":59.44,"a1":64.48},
{"s":"op","c0":3,"c1":3,"a0":64.48,"a1":65.45},
{"s":"wp","c0":3,"c1":3,"a0":65.45,"a1":66},
{"s":"pt","c0":4,"c1":4,"a0":58.0,"a1":58.44},
{"s":"op","c0":4,"c1":4,"a0":58.44,"a1":60.85},
{"s":"wp","c0":4,"c1":4,"a0":60.85,"a1":64.55},
{"s":"op","c0":4,"c1":4,"a0":64.55,"a1":66},
{"s":"se","c0":5,"c1":5,"a0":58.0,"a1":60.16},
{"s":"wp","c0":5,"c1":5,"a0":60.16,"a1":64.55},
{"s":"op","c0":5,"c1":5,"a0":64.55,"a1":66},
{"s":"un","c0":6,"c1":6,"a0":58.0,"a1":59.68},
{"s":"wp","c0":6,"c1":6,"a0":59.68,"a1":61.72},
{"s":"op","c0":6,"c1":6,"a0":61.72,"a1":63.69},
{"s":"wp","c0":6,"c1":6,"a0":63.69,"a1":66},
{"s":"un","c0":7,"c1":7,"a0":58.0,"a1":59.2},
{"s":"wp","c0":7,"c1":7,"a0":59.2,"a1":66},
{"s":"wp","c0":8,"c1":8,"a0":58.0,"a1":59.44},
{"s":"pt","c0":8,"c1":8,"a0":59.44,"a1":60.44},
{"s":"wp","c0":8,"c1":8,"a0":60.44,"a1":63.48},
{"s":"op","c0":8,"c1":8,"a0":63.48,"a1":66},
{"s":"wp","c0":9,"c1":9,"a0":58.0,"a1":60.13},
{"s":"op","c0":9,"c1":9,"a0":60.13,"a1":61.1},
{"s":"wp","c0":9,"c1":9,"a0":61.1,"a1":65.14},
{"s":"op","c0":9,"c1":9,"a0":65.14,"a1":66},
{"s":"wp","c0":10,"c1":10,"a0":58.0,"a1":60.47},
{"s":"ft","c0":10,"c1":10,"a0":60.47,"a1":61.03},
{"s":"wp","c0":10,"c1":10,"a0":61.03,"a1":63.48},
{"s":"op","c0":10,"c1":10,"a0":63.48,"a1":64.45},
{"s":"wp","c0":10,"c1":10,"a0":64.45,"a1":66},
{"s":"wp","c0":11,"c1":11,"a0":58.0,"a1":61.23},
{"s":"op","c0":11,"c1":11,"a0":61.23,"a1":62.2},
{"s":"wp","c0":11,"c1":11,"a0":62.2,"a1":66},
{"s":"wp","c0":12,"c1":12,"a0":58.0,"a1":62.48},
{"s":"op","c0":12,"c1":12,"a0":62.48,"a1":66},
{"s":"wp","c0":13,"c1":14,"a0":58.0,"a1":65.07},
{"s":"op","c0":13,"c1":14,"a0":65.07,"a1":66},
{"s":"wp","c0":15,"c1":15,"a0":58.0,"a1":65.55},
{"s":"op","c0":15,"c1":15,"a0":65.55,"a1":66},
{"s":"wp","c0":16,"c1":16,"a0":58.0,"a1":65.72},
{"s":"op","c0":16,"c1":16,"a0":65.72,"a1":66},
{"s":"wp","c0":17,"c1":34,"a0":58.0,"a1":66},
{"s":"ni","c0":35,"c1":35,"a0":58.0,"a1":58.2},
{"s":"wp","c0":35,"c1":35,"a0":58.2,"a1":66},
{"s":"ni","c0":36,"c1":36,"a0":58.0,"a1":58.6},
{"s":"wp","c0":36,"c1":36,"a0":58.6,"a1":66},
{"s":"ni","c0":37,"c1":37,"a0":58.0,"a1":59.37},
{"s":"wp","c0":37,"c1":37,"a0":59.37,"a1":64.41},
{"s":"op","c0":37,"c1":37,"a0":64.41,"a1":66},
{"s":"ni","c0":38,"c1":38,"a0":58.0,"a1":59.5},
{"s":"wp","c0":38,"c1":38,"a0":59.5,"a1":66},
{"s":"ni","c0":39,"c1":40,"a0":58.0,"a1":59.6},
{"s":"wp","c0":39,"c1":40,"a0":59.6,"a1":66},
{"s":"ni","c0":41,"c1":41,"a0":58.0,"a1":60.36},
{"s":"wp","c0":41,"c1":41,"a0":60.36,"a1":65.38},
{"s":"op","c0":41,"c1":41,"a0":65.38,"a1":66}
],
"legend": [
{"s":"ft","label":"ft employment","col":0,"row":0},
{"s":"pt","label":"pt employment","col":0,"row":1},
{"s":"se","label":"self employment","col":0,"row":2},
{"s":"un","label":"unemployment","col":0,"row":3},
{"s":"op","label":"old age pension","col":1,"row":0},
{"s":"wp","label":"widow pension","col":1,"row":1},
{"s":"ot","label":"other income/transfer","col":1,"row":2},
{"s":"ni","label":"no own income","col":1,"row":3}
]
},
"vconcat": [
{
"columns": 2,
"spacing": {"row": 21, "column": 18},
"concat": [
{
 "width": 391, "height": 220, "title": "traditional (N=129, 18%)",
 "layer": [
  {"data": {"name": "trad"}, "mark": {"type": "rect", "yOffset": -0.81, "y2Offset": 0.81},
   "encoding": {
    "x": {"field": "a0", "type": "quantitative", "scale": {"domain": [57.91, 66.18], "nice": false, "zero": false}, "axis": {"title": "age", "values": [58,60,62,64,66], "format": "d"}},
    "x2": {"field": "a1"},
    "y": {"field": "c0", "type": "quantitative", "scale": {"domain": [-3.88, 131.7], "reverse": true, "nice": false, "zero": false}, "axis": {"title": "Case No.", "values": [0,20,40,60,80,100,120], "format": "d"}},
    "y2": {"field": "c1"},
    "color": {"field": "s", "type": "nominal", "scale": {"domain": ["ft","pt","se","un","op","wp","ot","ni"], "range": ["#f2f5f7","#ffff00","#5c8a3a","#ff8c1a","#1e4a74","#8e1d8e","#a89cd8","#d9d2a2"]}, "legend": null}
   }},
  {"data": {"values": [{"note": "Source: GSOEP"}]}, "mark": {"type": "text", "align": "left", "baseline": "alphabetic", "dx": -7, "dy": 41, "fontSize": 8.3, "color": "#333333"},
   "encoding": {"x": {"datum": 58}, "y": {"datum": 131.7}, "text": {"field": "note"}}}
 ]
},
{
 "width": 390, "height": 220, "title": "disability (N=115, 16%)",
 "layer": [
  {"data": {"name": "dis"}, "mark": {"type": "rect", "yOffset": -0.88, "y2Offset": 0.88},
   "encoding": {
    "x": {"field": "a0", "type": "quantitative", "scale": {"domain": [57.91, 66.155], "nice": false, "zero": false}, "axis": {"title": "age", "values": [58,60,62,64,66], "format": "d"}},
    "x2": {"field": "a1"},
    "y": {"field": "c0", "type": "quantitative", "scale": {"domain": [-3.59, 121.9], "reverse": true, "nice": false, "zero": false}, "axis": {"title": "Case No.", "values": [0,20,40,60,80,100,120], "format": "d"}},
    "y2": {"field": "c1"},
    "color": {"field": "s", "type": "nominal", "scale": {"domain": ["ft","pt","se","un","op","wp","ot","ni"], "range": ["#f2f5f7","#ffff00","#5c8a3a","#ff8c1a","#1e4a74","#8e1d8e","#a89cd8","#d9d2a2"]}, "legend": null}
   }},
  {"data": {"values": [{"note": "Source: GSOEP"}]}, "mark": {"type": "text", "align": "left", "baseline": "alphabetic", "dx": -7, "dy": 41, "fontSize": 8.3, "color": "#333333"},
   "encoding": {"x": {"datum": 58}, "y": {"datum": 121.9}, "text": {"field": "note"}}}
 ]
},
{
 "width": 392, "height": 220, "title": "early entrance: unemployment (N=245, 34%)",
 "layer": [
  {"data": {"name": "unemp"}, "mark": {"type": "rect", "yOffset": -0.43, "y2Offset": 0.43},
   "encoding": {
    "x": {"field": "a0", "type": "quantitative", "scale": {"domain": [57.91, 66.2], "nice": false, "zero": false}, "axis": {"title": "age", "values": [58,60,62,64,66], "format": "d"}},
    "x2": {"field": "a1"},
    "y": {"field": "c0", "type": "quantitative", "scale": {"domain": [-7.8, 248.9], "reverse": true, "nice": false, "zero": false}, "axis": {"title": "Case No.", "values": [0,40,80,120,160,200,240], "format": "d"}},
    "y2": {"field": "c1"},
    "color": {"field": "s", "type": "nominal", "scale": {"domain": ["ft","pt","se","un","op","wp","ot","ni"], "range": ["#f2f5f7","#ffff00","#5c8a3a","#ff8c1a","#1e4a74","#8e1d8e","#a89cd8","#d9d2a2"]}, "legend": null}
   }},
  {"data": {"values": [{"note": "Source: GSOEP"}]}, "mark": {"type": "text", "align": "left", "baseline": "alphabetic", "dx": -7, "dy": 41, "fontSize": 8.3, "color": "#333333"},
   "encoding": {"x": {"datum": 58}, "y": {"datum": 248.9}, "text": {"field": "note"}}}
 ]
},
{
 "width": 395, "height": 262,
 "data": {"values": [{"blank": 0}]},
 "mark": {"type": "rect", "color": "white"},
 "encoding": {
  "x": {"datum": 0, "type": "quantitative", "scale": {"domain": [0, 1], "nice": false}, "axis": null},
  "x2": {"datum": 1},
  "y": {"datum": 0, "type": "quantitative", "scale": {"domain": [0, 1], "nice": false}, "axis": null},
  "y2": {"datum": 1}
 }
},
{
 "width": 394, "height": 220, "title": "non-standard employment: self employment (N=31, 4%)",
 "layer": [
  {"data": {"name": "self"}, "mark": {"type": "rect", "yOffset": -2.61, "y2Offset": 2.61},
   "encoding": {
    "x": {"field": "a0", "type": "quantitative", "scale": {"domain": [57.91, 66.24], "nice": false, "zero": false}, "axis": {"title": "age", "values": [58,60,62,64,66], "format": "d"}},
    "x2": {"field": "a1"},
    "y": {"field": "c0", "type": "quantitative", "scale": {"domain": [-0.96, 41.15], "reverse": true, "nice": false, "zero": false}, "axis": {"title": "Case No.", "values": [0,20,40], "format": "d"}},
    "y2": {"field": "c1"},
    "color": {"field": "s", "type": "nominal", "scale": {"domain": ["ft","pt","se","un","op","wp","ot","ni"], "range": ["#f2f5f7","#ffff00","#5c8a3a","#ff8c1a","#1e4a74","#8e1d8e","#a89cd8","#d9d2a2"]}, "legend": null}
   }},
  {"data": {"values": [{"note": "Source: GSOEP"}]}, "mark": {"type": "text", "align": "left", "baseline": "alphabetic", "dx": -7, "dy": 41, "fontSize": 8.3, "color": "#333333"},
   "encoding": {"x": {"datum": 58}, "y": {"datum": 41.15}, "text": {"field": "note"}}}
 ]
},
{
 "width": 390, "height": 220, "title": "non-standard employment: part time (N=59, 8%)",
 "layer": [
  {"data": {"name": "part"}, "mark": {"type": "rect", "yOffset": -1.61, "y2Offset": 1.61},
   "encoding": {
    "x": {"field": "a0", "type": "quantitative", "scale": {"domain": [57.91, 66.155], "nice": false, "zero": false}, "axis": {"title": "age", "values": [58,60,62,64,66], "format": "d"}},
    "x2": {"field": "a1"},
    "y": {"field": "c0", "type": "quantitative", "scale": {"domain": [-1.55, 66.7], "reverse": true, "nice": false, "zero": false}, "axis": {"title": "Case No.", "values": [0,20,40,60], "format": "d"}},
    "y2": {"field": "c1"},
    "color": {"field": "s", "type": "nominal", "scale": {"domain": ["ft","pt","se","un","op","wp","ot","ni"], "range": ["#f2f5f7","#ffff00","#5c8a3a","#ff8c1a","#1e4a74","#8e1d8e","#a89cd8","#d9d2a2"]}, "legend": null}
   }},
  {"data": {"values": [{"note": "Source: GSOEP"}]}, "mark": {"type": "text", "align": "left", "baseline": "alphabetic", "dx": -7, "dy": 41, "fontSize": 8.3, "color": "#333333"},
   "encoding": {"x": {"datum": 58}, "y": {"datum": 66.7}, "text": {"field": "note"}}}
 ]
},
{
 "width": 390, "height": 220, "title": "non-employment: no own income (N=95, 13%)",
 "layer": [
  {"data": {"name": "noinc"}, "mark": {"type": "rect", "yOffset": -1.05, "y2Offset": 1.05},
   "encoding": {
    "x": {"field": "a0", "type": "quantitative", "scale": {"domain": [57.91, 66.155], "nice": false, "zero": false}, "axis": {"title": "age", "values": [58,60,62,64,66], "format": "d"}},
    "x2": {"field": "a1"},
    "y": {"field": "c0", "type": "quantitative", "scale": {"domain": [-2.85, 101.6], "reverse": true, "nice": false, "zero": false}, "axis": {"title": "Case No.", "values": [0,20,40,60,80,100], "format": "d"}},
    "y2": {"field": "c1"},
    "color": {"field": "s", "type": "nominal", "scale": {"domain": ["ft","pt","se","un","op","wp","ot","ni"], "range": ["#f2f5f7","#ffff00","#5c8a3a","#ff8c1a","#1e4a74","#8e1d8e","#a89cd8","#d9d2a2"]}, "legend": null}
   }},
  {"data": {"values": [{"note": "Source: GSOEP"}]}, "mark": {"type": "text", "align": "left", "baseline": "alphabetic", "dx": -7, "dy": 41, "fontSize": 8.3, "color": "#333333"},
   "encoding": {"x": {"datum": 58}, "y": {"datum": 101.6}, "text": {"field": "note"}}}
 ]
},
{
 "width": 390, "height": 220, "title": "non-employment: widow pension (N=41, 6%)",
 "layer": [
  {"data": {"name": "widow"}, "mark": {"type": "rect", "yOffset": -2.33, "y2Offset": 2.33},
   "encoding": {
    "x": {"field": "a0", "type": "quantitative", "scale": {"domain": [57.91, 66.155], "nice": false, "zero": false}, "axis": {"title": "age", "values": [58,60,62,64,66], "format": "d"}},
    "x2": {"field": "a1"},
    "y": {"field": "c0", "type": "quantitative", "scale": {"domain": [-1.29, 45.9], "reverse": true, "nice": false, "zero": false}, "axis": {"title": "Case No.", "values": [0,20,40], "format": "d"}},
    "y2": {"field": "c1"},
    "color": {"field": "s", "type": "nominal", "scale": {"domain": ["ft","pt","se","un","op","wp","ot","ni"], "range": ["#f2f5f7","#ffff00","#5c8a3a","#ff8c1a","#1e4a74","#8e1d8e","#a89cd8","#d9d2a2"]}, "legend": null}
   }},
  {"data": {"values": [{"note": "Source: GSOEP"}]}, "mark": {"type": "text", "align": "left", "baseline": "alphabetic", "dx": -7, "dy": 41, "fontSize": 8.3, "color": "#333333"},
   "encoding": {"x": {"datum": 58}, "y": {"datum": 45.9}, "text": {"field": "note"}}}
 ]
}
]
},
{
 "width": 398, "height": 106,
 "view": {"fill": null, "stroke": null},
 "layer": [
  {"data": {"values": [{"frame": "legend"}]},
   "mark": {"type": "rect", "fill": "white", "stroke": "#555555", "strokeWidth": 1},
   "encoding": {
    "x": {"datum": -0.1922, "type": "quantitative", "scale": {"domain": [0.0824, 1.9039], "nice": false, "zero": false}, "axis": null},
    "x2": {"datum": 1.9039},
    "y": {"datum": -0.77, "type": "quantitative", "scale": {"domain": [-0.77, 3.53], "reverse": true, "nice": false, "zero": false}, "axis": null},
    "y2": {"datum": 3.53}
   }},
  {"data": {"name": "legend"},
   "mark": {"type": "rect", "width": 70, "height": 17},
   "encoding": {
    "x": {"field": "col", "type": "quantitative", "scale": {"domain": [0.0824, 1.9039], "nice": false, "zero": false}, "axis": null},
    "y": {"field": "row", "type": "quantitative", "scale": {"domain": [-0.77, 3.53], "reverse": true, "nice": false, "zero": false}, "axis": null},
    "color": {"field": "s", "type": "nominal", "scale": {"domain": ["ft","pt","se","un","op","wp","ot","ni"], "range": ["#e8eef1","#ffff00","#5c8a3a","#ff8c1a","#2d5a86","#96209a","#a89cd8","#d9d2a2"]}, "legend": null}
   }},
  {"data": {"name": "legend"},
   "mark": {"type": "text", "align": "left", "baseline": "middle", "dx": 46, "fontSize": 11.5, "color": "#333333"},
   "encoding": {
    "x": {"field": "col", "type": "quantitative", "scale": {"domain": [0.0824, 1.9039], "nice": false, "zero": false}, "axis": null},
    "y": {"field": "row", "type": "quantitative", "scale": {"domain": [-0.77, 3.53], "reverse": true, "nice": false, "zero": false}, "axis": null},
    "text": {"field": "label"}
   }}
 ]
}
]
}
